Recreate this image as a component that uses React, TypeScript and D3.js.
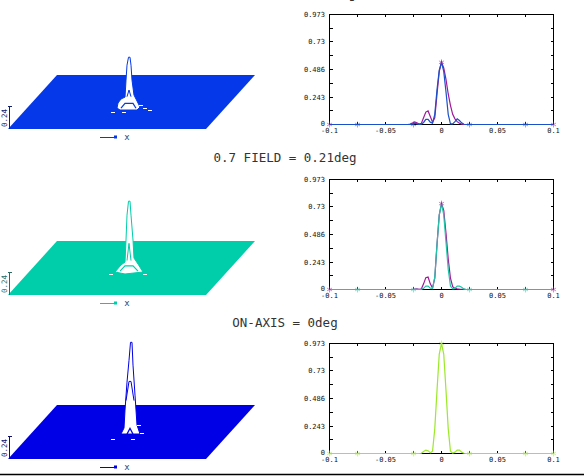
import React from "react";
import * as d3 from "d3";

// ---- point-spread profiles, shared sampling of the field offset
const psfX = [-0.1, -0.05, -0.03, -0.028, -0.026, -0.024, -0.022, -0.02, -0.018, -0.016, -0.014, -0.012, -0.01, -0.008, -0.006, -0.004, -0.002, 0, 0.002, 0.004, 0.006, 0.008, 0.01, 0.012, 0.014, 0.016, 0.018, 0.02, 0.022, 0.024, 0.026, 0.05, 0.1];
const magenta1 = [0, 0, 0, 0.003, 0.012, 0.022, 0.015, 0.004, 0.01, 0.06, 0.11, 0.12, 0.07, 0.02, 0.06, 0.27, 0.47, 0.55, 0.5, 0.4, 0.27, 0.17, 0.09, 0.05, 0.025, 0.012, 0.004, 0.001, 0, 0, 0, 0, 0];
const blue1 = [0, 0, 0, 0.001, 0.004, 0.012, 0.006, 0.001, 0.002, 0.018, 0.045, 0.045, 0.02, 0.012, 0.09, 0.31, 0.48, 0.55, 0.47, 0.29, 0.09, 0.006, 0.006, 0.025, 0.05, 0.035, 0.015, 0.002, 0, 0, 0, 0, 0];
const magenta2 = [0, 0, 0, 0, 0, 0.004, 0.006, 0.002, 0.005, 0.05, 0.105, 0.11, 0.05, 0.012, 0.1, 0.4, 0.66, 0.76, 0.7, 0.5, 0.27, 0.1, 0.025, 0.01, 0.005, 0.003, 0.002, 0.001, 0, 0, 0, 0, 0];
const teal2 = [0, 0, 0, 0, 0, 0, 0.001, 0, 0.001, 0.01, 0.03, 0.03, 0.012, 0.01, 0.11, 0.4, 0.66, 0.76, 0.66, 0.42, 0.18, 0.03, 0.006, 0.01, 0.03, 0.03, 0.02, 0.005, 0, 0, 0, 0, 0];
const lime3 = [0, 0, 0, 0, 0, 0, 0, 0, 0.002, 0.018, 0.03, 0.025, 0.006, 0.02, 0.22, 0.56, 0.88, 0.973, 0.88, 0.56, 0.22, 0.02, 0.003, 0.012, 0.03, 0.03, 0.012, 0.002, 0, 0, 0, 0, 0];

const xTicks = [-0.1, -0.075, -0.05, -0.025, 0, 0.025, 0.05, 0.075, 0.1];
const xLabels = ["-0.1", "", "-0.05", "", "0", "", "0.05", "", "0.1"];
const yTicks = [0, 0.1216, 0.243, 0.3645, 0.486, 0.608, 0.73, 0.851, 0.973];
const yLabels = ["0", "", "0.243", "", "0.486", "", "0.73", "", "0.973"];
const markersA = [-0.1, 0, 0.1];
const markersB = [-0.075, -0.025, 0.025, 0.075];

// ---- relief peaks: offset from the peak centre along x, and height
const peak1U = [-0.012, -0.011, -0.008, -0.004, -0.003, -0.002, -0.0005, 0.001, 0.002, 0.003, 0.005, 0.008, 0.011, 0.008, -0.009];
const peak1Z = [0.052, 0.104, 0.146, 0.166, 0.343, 0.499, 0.582, 0.582, 0.499, 0.343, 0.187, 0.125, 0.062, 0.031, 0.031];
const peak1TowerU = [-0.002, 0, 0.002];
const peak1TowerZ = [0.17, 0.24, 0.17];
const peak1ArchU = [-0.008, -0.004, 0.004, 0.007];
const peak1ArchZ = [0.05, 0.1, 0.1, 0.05];
const peak1SpeckU = [-0.016, -0.005, 0.012, 0.016, 0.021];
const peak1SpeckZ = [0.01, 0.01, 0.08, 0.05, 0.03];

const peak2U = [-0.014, -0.008, -0.004, -0.003, -0.002, -0.0005, 0.001, 0.002, 0.004, 0.005, 0.009, 0.014, -0.004];
const peak2Z = [0.021, 0.094, 0.125, 0.354, 0.614, 0.76, 0.76, 0.614, 0.354, 0.166, 0.104, 0.021, 0];
const peak2TowerU = [-0.002, 0, 0.002];
const peak2TowerZ = [0.14, 0.32, 0.14];
const peak2ArchU = [-0.009, -0.004, 0.004, 0.009];
const peak2ArchZ = [0.03, 0.085, 0.085, 0.03];
const peak2SpeckU = [-0.018, 0.016];
const peak2SpeckZ = [0.0, 0.0];

const peak3U = [-0.009, -0.006, -0.005, -0.003, -0.001, 0.0005, 0.002, 0.003, 0.005, 0.007, 0.01];
const peak3Z = [0.031, 0.094, 0.281, 0.572, 0.8, 0.988, 0.988, 0.75, 0.437, 0.125, 0.031];
const peak3TowerU = [-0.004, -0.001, 0.001, 0.004];
const peak3TowerZ = [0.38, 0.58, 0.58, 0.38];
const peak3ArchU = [-0.003, 0, 0.003];
const peak3ArchZ = [0.03, 0.09, 0.03];
const peak3SpeckU = [-0.017, 0.003, 0.009, 0.012];
const peak3SpeckZ = [-0.03, -0.03, 0.115, 0.04];

const planeU = [-0.1, 0.1, 0.1, -0.1];
const planeV = [0, 0, 1, 1];

const titles = ["FULL FIELD = 0.3deg", "0.7 FIELD = 0.21deg", "ON-AXIS = 0deg"];
const MONO = "'DejaVu Sans Mono', monospace";
const TICKFONT = "'DejaVu Sans Mono', monospace";

function Profile({ top, a, b, ca, cb }: any) {
  const x = d3.scaleLinear().domain([-0.1, 0.1]).range([329.5, 553.5]);
  const y = d3.scaleLinear().domain([0, 0.973]).range([top + 110, top]);
  const line = (vals: number[]) =>
    d3.line<number>().x((_, i) => x(psfX[i])).y((d) => y(d)).curve(d3.curveLinear)(vals) || "";
  const peakOf = (vals: number[], v: number) => vals[psfX.indexOf(v)];
  const star = d3.symbol(d3.symbolAsterisk, 24)() || "";
  return (
    <g>
      <rect x={x(-0.1)} y={y(0.973)} width={x(0.1) - x(-0.1)} height={110} fill="none" stroke="#000" strokeWidth={1} shapeRendering="crispEdges" />
      {xTicks.map((t) => (
        <g key={t} stroke="#000" shapeRendering="crispEdges">
          <line x1={x(t)} x2={x(t)} y1={top} y2={top + 2.5} />
          <line x1={x(t)} x2={x(t)} y1={top + 110} y2={top + 107.5} />
        </g>
      ))}
      {yTicks.map((t) => (
        <g key={t} stroke="#000" shapeRendering="crispEdges">
          <line x1={x(-0.1)} x2={x(-0.1) + 3} y1={y(t)} y2={y(t)} />
          <line x1={x(0.1)} x2={x(0.1) - 3} y1={y(t)} y2={y(t)} />
        </g>
      ))}
      {yLabels.map((l, i) =>
        l ? (
          <text key={l} x={325} y={y(yTicks[i]) + (i === 0 ? 1 : 2.5)} fontFamily={TICKFONT} fontSize={7} textAnchor="end" fill="#111">{l}</text>
        ) : null
      )}
      {xLabels.map((l, i) =>
        l ? (
          <text key={l} x={x(xTicks[i])} y={top + 118} fontFamily={TICKFONT} fontSize={7} textAnchor="middle" fill="#111">{l}</text>
        ) : null
      )}
      {a ? <path d={line(a)} fill="none" stroke={ca} strokeWidth={1.2} /> : null}
      <path d={line(b)} fill="none" stroke={cb} strokeWidth={1.2} />
      {markersB.map((m) => (
        <path key={m} d={star} transform={`translate(${x(m)},${y(0)})`} fill={cb} stroke={cb} strokeWidth={0.5} />
      ))}
      {markersA.map((m) => (
        <path key={m} d={star} transform={`translate(${x(m)},${y(peakOf(a || b, m))})`} fill={ca || cb} stroke={ca || cb} strokeWidth={0.5} />
      ))}
    </g>
  );
}

function Relief({ ground, fill, dark, cx, cy, u, z, towerU, towerZ, archU, archZ, speckU, speckZ }: any) {
  const height = 54;
  const px = d3.scaleLinear().domain([-0.1, 0.1]).range([8, 206]);
  const shear = d3.scaleLinear().domain([0, 1]).range([0, 49]);
  const py = d3.scaleLinear().domain([0, 1]).range([ground, ground - height]);
  const dx = d3.scaleLinear().domain([0, 0.01]).range([cx, cx + 10]);
  const dz = d3.scaleLinear().domain([0, 0.24]).range([cy, cy - 23]);
  const plane = d3.line<number>().x((d, i) => px(d) + shear(planeV[i])).y((_, i) => py(planeV[i])).curve(d3.curveLinearClosed)(planeU) || "";
  const poly = (us: number[], zs: number[], closed = false) =>
    d3.line<number>().x((d) => dx(d)).y((_, i) => dz(zs[i])).curve(closed ? d3.curveLinearClosed : d3.curveLinear)(us) || "";
  return (
    <g>
      <path d={plane} fill={fill} />
      <path d={poly(u, z, true)} fill="#fff" stroke={fill} strokeWidth={1} />
      <path d={poly(towerU, towerZ)} fill="none" stroke={fill} strokeWidth={1} />
      <path d={poly(archU, archZ)} fill="none" stroke={fill} strokeWidth={1.2} />
      {speckU.map((s: number, i: number) => (
        <line key={i} x1={dx(s) - 2} x2={dx(s) + 2} y1={dz(speckZ[i])} y2={dz(speckZ[i])} stroke="#fff" strokeWidth={1} shapeRendering="crispEdges" />
      ))}
      <line x1={9.5} x2={9.5} y1={ground} y2={dz(0.24) + (ground - cy)} stroke={dark} strokeWidth={1} shapeRendering="crispEdges" />
      <line x1={7.5} x2={11.5} y1={dz(0.24) + (ground - cy)} y2={dz(0.24) + (ground - cy)} stroke={dark} strokeWidth={1} shapeRendering="crispEdges" />
      <text transform={`translate(6.5,${ground - 11}) rotate(-90)`} fontFamily={TICKFONT} fontSize={7.5} textAnchor="middle" fill={dark}>0.24</text>
      <line x1={100} x2={117} y1={ground + 8} y2={ground + 8} stroke={fill} strokeWidth={1} shapeRendering="crispEdges" />
      <rect x={114} y={ground + 6.5} width={3} height={3} fill={fill} />
      <text x={127} y={ground + 11} fontFamily={TICKFONT} fontSize={9} textAnchor="middle" fill="#445">x</text>
    </g>
  );
}

export default function App() {
  return (
    <svg width={584} height={476} viewBox="0 0 584 476" style={{ position: "absolute", left: 0, top: 0, background: "#fff", display: "block" }}>
      <text x={356} y={-2.5} textAnchor="end" fontFamily={MONO} fontSize={12.5} fill="#333">{titles[0]}</text>
      <text x={285} y={162} textAnchor="middle" fontFamily={MONO} fontSize={12.5} fill="#333">{titles[1]}</text>
      <text x={285} y={327} textAnchor="middle" fontFamily={MONO} fontSize={12.5} fill="#333">{titles[2]}</text>

      <Relief ground={129} fill="#0438E8" dark="#10206a" cx={129} cy={113} u={peak1U} z={peak1Z} towerU={peak1TowerU} towerZ={peak1TowerZ} archU={peak1ArchU} archZ={peak1ArchZ} speckU={peak1SpeckU} speckZ={peak1SpeckZ} />
      <Relief ground={295} fill="#00CDAA" dark="#2a6a62" cx={129} cy={274} u={peak2U} z={peak2Z} towerU={peak2TowerU} towerZ={peak2TowerZ} archU={peak2ArchU} archZ={peak2ArchZ} speckU={peak2SpeckU} speckZ={peak2SpeckZ} />
      <Relief ground={459} fill="#0000E6" dark="#10106a" cx={130} cy={437} u={peak3U} z={peak3Z} towerU={peak3TowerU} towerZ={peak3TowerZ} archU={peak3ArchU} archZ={peak3ArchZ} speckU={peak3SpeckU} speckZ={peak3SpeckZ} />

      <Profile top={14.5} a={magenta1} b={blue1} ca="#A0189A" cb="#1A50C8" />
      <Profile top={179.5} a={magenta2} b={teal2} ca="#A0189A" cb="#22C4A8" />
      <Profile top={343.5} a={null} b={lime3} ca={null} cb="#9CE82A" />

      <line x1={0} x2={584} y1={474.5} y2={474.5} stroke="#000" strokeWidth={1.5} />
    </svg>
  );
}
